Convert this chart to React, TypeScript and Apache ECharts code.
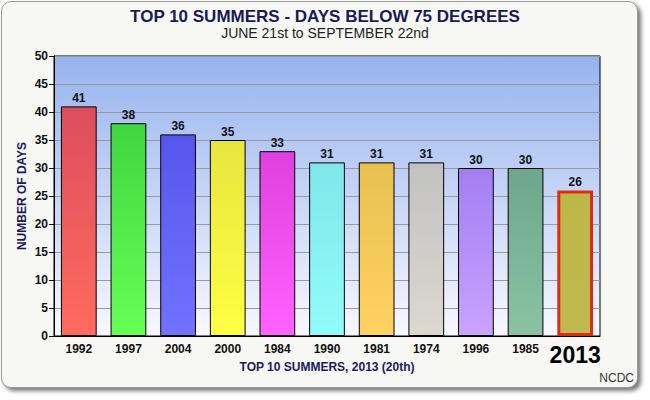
import React, { useEffect, useRef } from "react";
import * as echarts from "echarts";

const categories = ["1992", "1997", "2004", "2000", "1984", "1990", "1981", "1974", "1996", "1985", "2013"];
const days = [41, 38, 36, 35, 33, 31, 31, 31, 30, 30, 26];
const yTicks = { min: 0, max: 50, interval: 5 };
const highlightYear = "2013";

const barTop = ["#dc4e5e", "#3fd63f", "#5656ec", "#e6e63e", "#de40de", "#80e6ea", "#e8c052", "#c2c2c2", "#a27ef2", "#6ea68e", "#bcb846"];
const barBottom = ["#ff6b5e", "#66ff55", "#7272ff", "#ffff44", "#ff62ff", "#92fcfa", "#ffd262", "#dcd8d0", "#caa2ff", "#8ac2a2", "#c0b850"];

const SANS = "'Liberation Sans', Arial, sans-serif";

export default function App() {
  const ref = useRef<HTMLDivElement>(null);

  useEffect(() => {
    document.body.style.margin = "0";
    if (!ref.current) return;
    const chart = echarts.init(ref.current, null, { renderer: "svg" });

    const data = days.map((v, i) => {
      const isHi = categories[i] === highlightYear;
      return {
        value: v,
        itemStyle: {
          color: {
            type: "linear",
            x: 0, y: 0, x2: 0, y2: 1,
            colorStops: [
              { offset: 0, color: barTop[i] },
              { offset: 1, color: barBottom[i] },
            ],
          },
          borderColor: isHi ? "#dd2a18" : "#000",
          borderWidth: isHi ? 3 : 1,
        },
      };
    });

    chart.setOption({
      animation: false,
      backgroundColor: "transparent",
      title: {
        text: "TOP 10 SUMMERS - DAYS BELOW 75 DEGREES",
        subtext: "JUNE 21st to SEPTEMBER 22nd",
        left: "center",
        top: 3,
        itemGap: 1,
        textStyle: { fontFamily: SANS, fontSize: 17, fontWeight: "bold", color: "#1a1a55" },
        subtextStyle: { fontFamily: SANS, fontSize: 14, color: "#222" },
      },
      grid: {
        left: 54,
        right: 50,
        top: 56,
        bottom: 64,
        show: true,
        borderColor: "#000",
        borderWidth: 1,
        backgroundColor: {
          type: "linear",
          x: 0, y: 0, x2: 0, y2: 1,
          colorStops: [
            { offset: 0, color: "#96b3ee" },
            { offset: 1, color: "#f8f8ff" },
          ],
        },
      },
      xAxis: {
        type: "category",
        data: categories,
        name: "TOP 10 SUMMERS, 2013 (20th)",
        nameLocation: "middle",
        nameGap: 25,
        nameMoveOverlap: false,
        nameTextStyle: { fontFamily: SANS, fontSize: 12, fontWeight: "bold", color: "#1a1a60" },
        axisLine: { lineStyle: { color: "#000", width: 1 } },
        axisTick: { alignWithLabel: true, length: 4, lineStyle: { color: "#000" } },
        axisLabel: {
          interval: 0,
          margin: 7,
          fontFamily: SANS,
          fontSize: 12,
          fontWeight: "bold",
          color: "#111",
          formatter: (v: string) => (v === highlightYear ? `{big|${v}}` : v),
          rich: {
            big: { fontFamily: SANS, fontSize: 23, fontWeight: "bold", color: "#000" },
          },
        },
      },
      yAxis: {
        type: "value",
        min: yTicks.min,
        max: yTicks.max,
        interval: yTicks.interval,
        name: "NUMBER OF DAYS",
        nameLocation: "middle",
        nameGap: 26,
        nameMoveOverlap: false,
        nameTextStyle: { fontFamily: SANS, fontSize: 12, fontWeight: "bold", color: "#1a1a60" },
        axisLine: { show: true, lineStyle: { color: "#000", width: 1 } },
        axisTick: { show: true, length: 5, lineStyle: { color: "#000" } },
        axisLabel: { fontFamily: SANS, fontSize: 12, fontWeight: "bold", color: "#111", margin: 6 },
        splitLine: { show: true, lineStyle: { color: "#999", width: 1 } },
      },
      series: [
        {
          type: "bar",
          data,
          barCategoryGap: "28%",
          label: {
            show: true,
            position: "top",
            distance: 2,
            fontFamily: SANS,
            fontSize: 12,
            fontWeight: "bold",
            color: "#111",
          },
        },
      ],
      graphic: [
        {
          type: "text",
          right: 16,
          top: 372,
          style: { text: "NCDC", font: `12px ${SANS}`, fill: "#333" },
        },
      ],
    });

    return () => chart.dispose();
  }, []);

  return (
    <div style={{ position: "relative", width: 650, height: 400, background: "#fff", overflow: "hidden" }}>
      <div
        style={{
          position: "absolute",
          left: 1,
          top: 1,
          width: 635,
          height: 385,
          border: "1px solid #9a9a9a",
          borderRadius: 10,
          background: "#f7f7f3",
          boxShadow: "3px 3px 4px #777",
        }}
      />
      <div ref={ref} style={{ position: "absolute", left: 0, top: 0, width: 650, height: 400 }} />
    </div>
  );
}
